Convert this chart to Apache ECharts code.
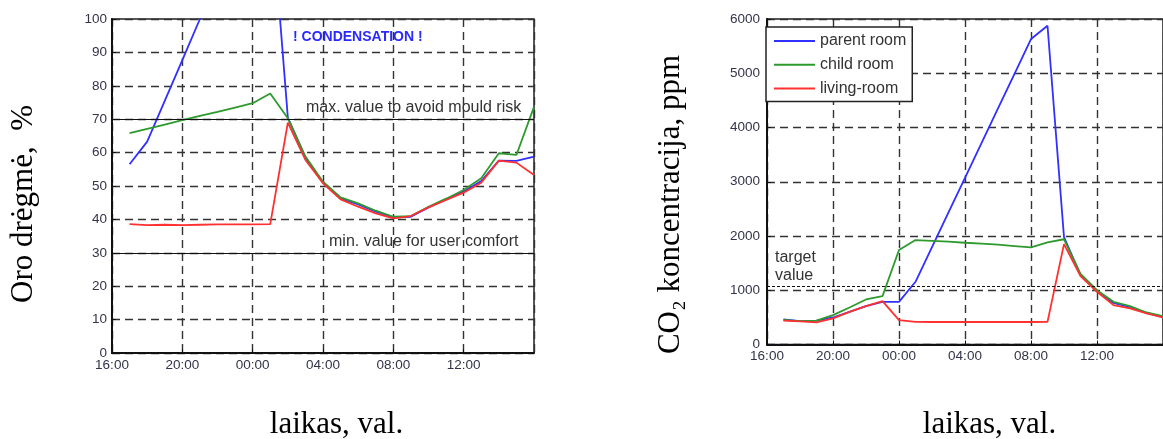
<!DOCTYPE html>
<html><head><meta charset="utf-8">
<script src="https://cdn.jsdelivr.net/npm/echarts/dist/echarts.min.js"></script>
<style>html,body{margin:0;padding:0;background:#fff}#c{width:1163px;height:439px}</style>
</head><body><div id="c"></div>
<script>
// Hourly readings from 17:00 to 16:00 next day
const times = ['17:00','18:00','19:00','20:00','21:00','22:00','23:00','00:00','01:00','02:00','03:00','04:00',
               '05:00','06:00','07:00','08:00','09:00','10:00','11:00','12:00','13:00','14:00','15:00','16:00'];
// Relative humidity, %
const rhParent = [56.5,63.3,75.5,87.7,100,112,122,130,137,70.5,58.5,51.0,46.3,44.5,42.3,40.6,40.8,43.6,46.0,48.3,51.5,57.6,57.5,58.8];
const rhChild  = [65.8,67.1,68.4,69.7,71.0,72.2,73.5,74.8,77.7,70.3,58.8,51.3,46.6,44.8,42.6,40.8,41.0,43.8,46.2,48.8,52.3,59.8,59.3,73.7];
const rhLiving = [38.6,38.3,38.4,38.3,38.4,38.5,38.5,38.5,38.6,69.0,57.8,50.8,46.0,43.8,41.8,40.3,41.0,43.6,45.8,48.0,51.0,57.6,57.0,53.3];
// CO2 concentration, ppm
const co2Parent = [461,430,440,498,602,707,787,787,1156,1795,2434,3073,3712,4351,4990,5630,5876,1980,1280,990,765,690,585,505];
const co2Child  = [455,430,440,541,683,830,892,1741,1925,1910,1895,1876,1860,1840,1815,1790,1883,1940,1300,1000,787,707,590,520];
const co2Living = [440,425,406,480,602,707,800,449,417,415,415,415,415,415,415,415,417,1851,1261,971,725,665,572,500];
// Reference levels
const rhMouldMax = 70;
const rhComfortMin = 30;
const co2Target = 1080;
const roomNames = ['parent room','child room','living-room'];

const hourOffset = t => { const h = (parseInt(t,10) - 16 + 24) % 24; return h === 0 ? 24 : h; };
const pair = arr => arr.map((v,i) => [hourOffset(times[i]), v]);
const fmtHour = v => { const h = (16 + v) % 24; return (h < 10 ? '0' : '') + h + ':00'; };

const colors = ['#3030ff', '#2e9a2e', '#ff3030'];
const tickFont = {fontFamily:'Liberation Sans, Arial, sans-serif', fontSize:13.5, color:'#33334a'};
const splitStyle = {show:true, lineStyle:{color:'#333', width:1.4, type:[8,5]}};

function xAx(gi){
  return {gridIndex:gi, type:'value', min:0, max:24, interval:4,
    axisLine:{show:true, onZero:false, lineStyle:{color:'#111', width:2}},
    axisTick:{show:true, inside:true, length:4, lineStyle:{color:'#111'}},
    axisLabel:Object.assign({margin:5, formatter:fmtHour, showMaxLabel:false}, tickFont),
    splitLine:splitStyle};
}
function yAx(gi, max, interval, margin){
  return {gridIndex:gi, type:'value', min:0, max:max, interval:interval,
    axisLine:{show:true, onZero:false, lineStyle:{color:'#111', width:2}},
    axisTick:{show:true, inside:true, length:4, lineStyle:{color:'#111'}},
    axisLabel:Object.assign({margin:margin, formatter: v => String(v)}, tickFont),
    splitLine:splitStyle};
}
function line(name, data, color, xi, extra){
  return Object.assign({type:'line', name:name, xAxisIndex:xi, yAxisIndex:xi, data:pair(data),
    symbol:'none', showSymbol:false, lineStyle:{color:color, width:1.8}, itemStyle:{color:color},
    clip:true, animation:false, z:3}, extra||{});
}

const txt = {fontFamily:'Liberation Sans, Arial, sans-serif', fontSize:16, fill:'#333'};
const serif = {fontFamily:'Liberation Serif, Times New Roman, serif', fontSize:31, fill:'#000'};

const option = {
  animation:false,
  backgroundColor:'#fff',
  grid:[
    {left:112, top:19, width:422, height:334, show:true, borderColor:'#222', borderWidth:1.5, backgroundColor:'transparent'},
    {left:767, top:19, width:405, height:325.5, show:true, borderColor:'#222', borderWidth:1.5, backgroundColor:'transparent'}
  ],
  xAxis:[xAx(0), xAx(1)],
  yAxis:[yAx(0,100,10,5), yAx(1,6000,1000,7)],
  legend:{
    data:roomNames.map(n => ({name:n, icon:'rect'})), orient:'vertical', left:766, top:27,
    itemWidth:41, itemHeight:2, itemGap:7.7, padding:[6,6,5,8],
    borderColor:'#222', borderWidth:1.5, backgroundColor:'#fff',
    textStyle:{fontFamily:'Liberation Sans, Arial, sans-serif', fontSize:16, color:'#333', lineHeight:14},
    selectedMode:false
  },
  series:[
    line('RH '+roomNames[0], rhParent, colors[0], 0),
    line('RH '+roomNames[1], rhChild, colors[1], 0),
    line('RH '+roomNames[2], rhLiving, colors[2], 0, {
      markLine:{silent:true, symbol:'none', label:{show:false},
        lineStyle:{color:'#111', width:1.2, type:'solid'},
        data:[{yAxis:rhMouldMax},{yAxis:rhComfortMin}]}
    }),
    line(roomNames[0], co2Parent, colors[0], 1),
    line(roomNames[1], co2Child, colors[1], 1),
    line(roomNames[2], co2Living, colors[2], 1, {
      markLine:{silent:true, symbol:'none', label:{show:false},
        lineStyle:{color:'#111', width:1, type:[3,2]},
        data:[{yAxis:co2Target}]}
    })
  ],
  graphic:[
    {type:'text', x:293, y:37, style:Object.assign({}, txt, {text:'! CONDENSATION !', fontSize:14, fontWeight:'bold', fill:'#2a2aff', verticalAlign:'middle'})},
    {type:'text', x:306, y:108, style:Object.assign({}, txt, {text:'max. value to avoid mould risk', verticalAlign:'middle'})},
    {type:'text', x:329, y:242, style:Object.assign({}, txt, {text:'min. value for user comfort', verticalAlign:'middle'})},
    {type:'text', x:775, y:258, style:Object.assign({}, txt, {text:'target', verticalAlign:'middle'})},
    {type:'text', x:775, y:276, style:Object.assign({}, txt, {text:'value', verticalAlign:'middle'})},
    {type:'text', x:23.5, y:204, rotation:Math.PI/2, style:Object.assign({}, serif, {text:'Oro drėgmė,  %', align:'center', verticalAlign:'middle'})},
    {type:'text', x:671, y:204.5, rotation:Math.PI/2, style:Object.assign({}, serif, {text:'CO₂ koncentracija, ppm', align:'center', verticalAlign:'middle'})},
    {type:'text', x:336.5, y:425, style:Object.assign({}, serif, {text:'laikas, val.', align:'center', verticalAlign:'middle'})},
    {type:'text', x:989.5, y:425, style:Object.assign({}, serif, {text:'laikas, val.', align:'center', verticalAlign:'middle'})}
  ]
};
const chart = echarts.init(document.getElementById('c'), null, {renderer:'canvas'});
chart.setOption(option);
</script>
</body></html>
